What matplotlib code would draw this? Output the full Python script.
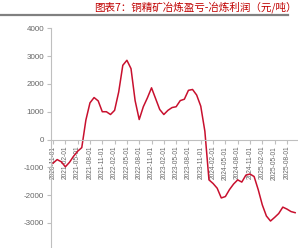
import numpy as np
import pandas as pd
import matplotlib
matplotlib.use('Agg')
from matplotlib import pyplot as plt

# monthly smelting profit (yuan/ton), 2020-11 .. 2025-10
months = pd.date_range('2020-11-01', periods=60, freq='MS').strftime('%Y-%m-%d').tolist()
profit = [-850, -720, -800, -980, -820, -600, -420, -290, 700, 1320,
          1510, 1390, 1000, 1000, 900, 1050, 1710, 2670, 2850, 2550,
          1400, 720, 1180, 1500, 1860, 1470, 1080, 900, 1050, 1150,
          1180, 1400, 1450, 1770, 1800, 1600, 1200, 300, -1450, -1580,
          -1750, -2100, -2050, -1800, -1600, -1450, -1530, -1280, -1240, -1330,
          -1800, -2350, -2750, -2930, -2800, -2660, -2430, -2500, -2590, -2630]
y_ticks = [-3000, -2000, -1000, 0, 1000, 2000, 3000, 4000]
title = '图表7：铜精矿冶炼盈亏-冶炼利润（元/吨）'

W, H = 298, 248
fig = plt.figure(figsize=(W / 100, H / 100), dpi=100)

# header
fig.text(297 / W, 1 - 7 / H, title, ha='right', va='center', color='#C00000',
         fontsize=7.6, family=['Noto Sans CJK SC', 'DejaVu Sans'])
fig.add_artist(plt.Line2D([0, 288 / W], [1 - 14.5 / H, 1 - 14.5 / H],
                          color='#808080', lw=1.6, transform=fig.transFigure))

ax = fig.add_axes([51 / W, 0, (W - 51) / W, (H - 28.3) / H])
# spine position first, it resets the tick setup
for s in ['top', 'right']:
    ax.spines[s].set_visible(False)
ax.spines['bottom'].set_position(('data', 0))
ax.spines['left'].set_color('#BFBFBF')
ax.spines['bottom'].set_color('#BFBFBF')

x = np.arange(len(profit))
ax.plot(x, profit, color='#C8102E', lw=1.1)

ax.set_xlim(-0.5, 59.7)
ax.set_ylim(-3900, 4000)
ax.set_yticks(y_ticks)
ax.set_yticklabels([str(v) for v in y_ticks])
ax.set_xticks(x[::3])
ax.set_xticklabels(months[::3], rotation=90)

ax.tick_params(axis='y', colors='#BFBFBF', labelcolor='#666666', labelsize=5.8,
               length=3, width=0.8, pad=2)
ax.tick_params(axis='x', colors='#BFBFBF', labelcolor='#666666', labelsize=4.8,
               length=3, width=0.8, pad=1.5)
for lab in ax.get_xticklabels() + ax.get_yticklabels():
    lab.set_family('Liberation Sans')

fig.savefig('out.png', dpi=100)
